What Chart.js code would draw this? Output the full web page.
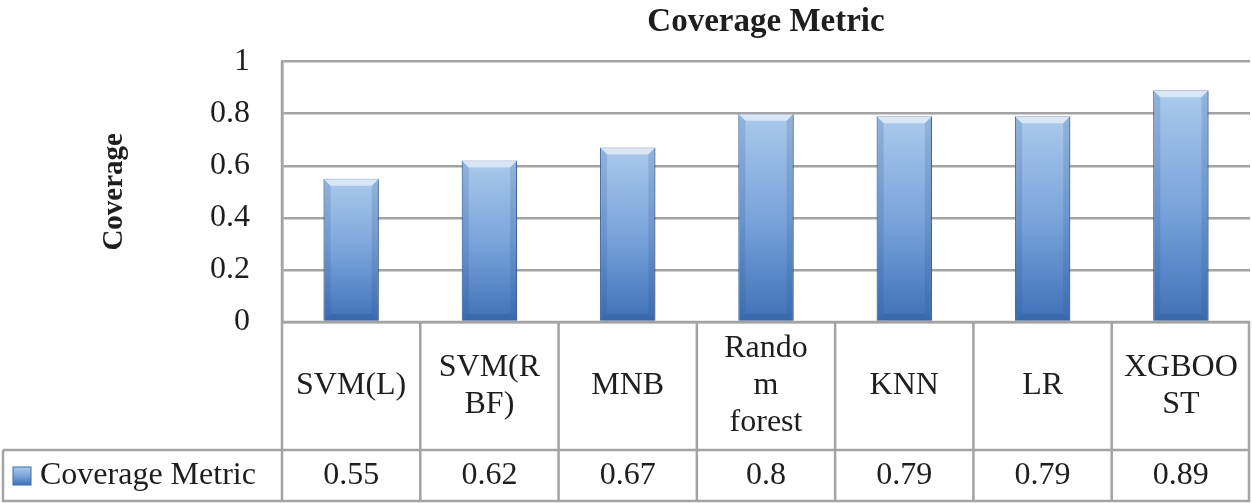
<!DOCTYPE html>
<html>
<head>
<meta charset="utf-8">
<script src="https://cdn.jsdelivr.net/npm/chart.js@4"></script>
<style>
  html, body { margin: 0; padding: 0; background: #fff; }
  #wrap { width: 1252px; height: 503px; }
</style>
</head>
<body>
<div id="wrap"><canvas id="chart"></canvas></div>
<script>
// data
const categories = [['SVM(L)'], ['SVM(R', 'BF)'], ['MNB'], ['Rando', 'm', 'forest'], ['KNN'], ['LR'], ['XGBOO', 'ST']];
const coverage = [0.55, 0.62, 0.67, 0.8, 0.79, 0.79, 0.89];
const seriesName = 'Coverage Metric';
const chartTitle = 'Coverage Metric';
const yTitle = 'Coverage';
const yMin = 0, yMax = 1, yStep = 0.2;

const SERIF = '"Liberation Serif", "Times New Roman", serif';
const GRID = '#a3a3a3';
const TEXT = '#1e1e1e';
const CAT_ROW = 128;   // height of the category row below the plot
const VAL_ROW = 52;    // height of the value row
const TABLE_LEFT = 3;

function barGradient(ctx, top, bottom) {
    const g = ctx.createLinearGradient(0, top, 0, bottom);
    g.addColorStop(0, '#abcaec');
    g.addColorStop(0.5, '#7aa4db');
    g.addColorStop(1, '#3f71b7');
    return g;
}

const shadowPlugin = {
    id: 'barShadow',
    beforeDatasetsDraw(chart) {
        const ctx = chart.ctx;
        ctx.save();
        ctx.shadowColor = 'rgba(0,0,0,0.28)';
        ctx.shadowBlur = 5;
        ctx.shadowOffsetX = 2;
        ctx.shadowOffsetY = 1;
    },
    afterDatasetsDraw(chart) {
        const ctx = chart.ctx;
        ctx.restore();
        // bevel on each bar
        chart.getDatasetMeta(0).data.forEach(bar => {
            const l = bar.x - bar.width / 2, r = bar.x + bar.width / 2;
            const t = bar.y, b = bar.base;
            const bv = 7;
            ctx.save();
            ctx.fillStyle = 'rgba(255,255,255,0.55)';
            ctx.beginPath();
            ctx.moveTo(l, t); ctx.lineTo(r, t); ctx.lineTo(r - bv, t + bv); ctx.lineTo(l + bv, t + bv);
            ctx.closePath(); ctx.fill();
            ctx.fillStyle = 'rgba(40,80,140,0.18)';
            ctx.beginPath();
            ctx.moveTo(l, t); ctx.lineTo(l + bv, t + bv); ctx.lineTo(l + bv, b - bv); ctx.lineTo(l, b);
            ctx.closePath(); ctx.fill();
            ctx.beginPath();
            ctx.moveTo(r, t); ctx.lineTo(r - bv, t + bv); ctx.lineTo(r - bv, b - bv); ctx.lineTo(r, b);
            ctx.closePath(); ctx.fill();
            ctx.fillStyle = 'rgba(30,70,130,0.25)';
            ctx.beginPath();
            ctx.moveTo(l, b); ctx.lineTo(l + bv, b - bv); ctx.lineTo(r - bv, b - bv); ctx.lineTo(r, b);
            ctx.closePath(); ctx.fill();
            ctx.restore();
        });
    }
};

const tablePlugin = {
    id: 'dataTable',
    afterDraw(chart) {
        const ctx = chart.ctx;
        const area = chart.chartArea;
        const xs = chart.scales.x;
        const n = categories.length;
        const colW = (area.right - area.left) / n;
        const y0 = area.bottom, y1 = y0 + CAT_ROW, y2 = y1 + VAL_ROW;

        ctx.save();
        ctx.strokeStyle = GRID;
        ctx.lineWidth = 2.5;
        ctx.beginPath();
        ctx.moveTo(area.left, y0); ctx.lineTo(area.right, y0);
        ctx.moveTo(TABLE_LEFT, y1); ctx.lineTo(area.right, y1);
        ctx.moveTo(TABLE_LEFT, y2 - 1); ctx.lineTo(area.right, y2 - 1);
        for (let i = 0; i <= n; i++) {
            const x = area.left + i * colW - (i === n ? 1 : 0);
            ctx.moveTo(x, i === 0 ? area.top : y0);
            ctx.lineTo(x, y2);
        }
        ctx.moveTo(TABLE_LEFT, y1); ctx.lineTo(TABLE_LEFT, y2);
        ctx.stroke();

        ctx.fillStyle = TEXT;
        ctx.font = '32px ' + SERIF;
        ctx.textAlign = 'center';
        ctx.textBaseline = 'middle';
        const lh = 37;
        categories.forEach((lines, i) => {
            const cx = xs.getPixelForValue(i);
            const start = (y0 + y1) / 2 - (lines.length - 1) * lh / 2;
            lines.forEach((t, j) => ctx.fillText(t, cx, start + j * lh));
            ctx.fillText(String(coverage[i]), cx, (y1 + y2) / 2);
        });

        // legend key
        const ky = (y1 + y2) / 2;
        ctx.fillStyle = barGradient(ctx, ky - 9, ky + 9);
        ctx.fillRect(13, ky - 9, 18, 18);
        ctx.strokeStyle = '#3d6cab';
        ctx.lineWidth = 1;
        ctx.strokeRect(13, ky - 9, 18, 18);
        ctx.fillStyle = TEXT;
        ctx.textAlign = 'left';
        ctx.fillText(seriesName, 40, ky);
        ctx.restore();
    }
};

new Chart(document.getElementById('chart'), {
    type: 'bar',
    data: {
        labels: categories,
        datasets: [{
            label: seriesName,
            data: coverage,
            backgroundColor(c) {
                const chart = c.chart;
                if (!chart.chartArea || c.parsed === undefined) return '#6f9bd6';
                const top = chart.scales.y.getPixelForValue(c.parsed.y);
                return barGradient(chart.ctx, top, chart.chartArea.bottom);
            },
            borderColor: '#3f6eae',
            borderWidth: 1,
            barPercentage: 0.4,
            categoryPercentage: 1
        }]
    },
    options: {
        responsive: true,
        maintainAspectRatio: false,
        animation: false,
        layout: { padding: { left: 0, right: 2, top: 0, bottom: CAT_ROW + VAL_ROW + 1 } },
        plugins: {
            legend: { display: false },
            tooltip: { enabled: false },
            title: {
                display: true,
                fullSize: false,
                text: chartTitle,
                color: TEXT,
                font: { family: SERIF, size: 33, weight: 'bold' },
                padding: { top: 3, bottom: 19 }
            }
        },
        scales: {
            x: {
                ticks: { display: false },
                grid: { display: false, drawTicks: false },
                border: { display: false }
            },
            y: {
                min: yMin,
                max: yMax,
                ticks: {
                    stepSize: yStep,
                    color: TEXT,
                    padding: 32,
                    font: { family: SERIF, size: 32 },
                    callback: v => String(Number(v.toFixed(1)))
                },
                grid: { color: GRID, lineWidth: 2.5, drawTicks: false },
                border: { display: true, color: GRID, width: 2.5 },
                title: {
                    display: true,
                    text: yTitle,
                    color: TEXT,
                    font: { family: SERIF, size: 29, weight: 'bold' },
                    padding: { top: 97, bottom: 0 }
                },
                afterFit(scale) { scale.width = 282; }
            }
        }
    },
    plugins: [shadowPlugin, tablePlugin]
});
</script>
</body>
</html>
